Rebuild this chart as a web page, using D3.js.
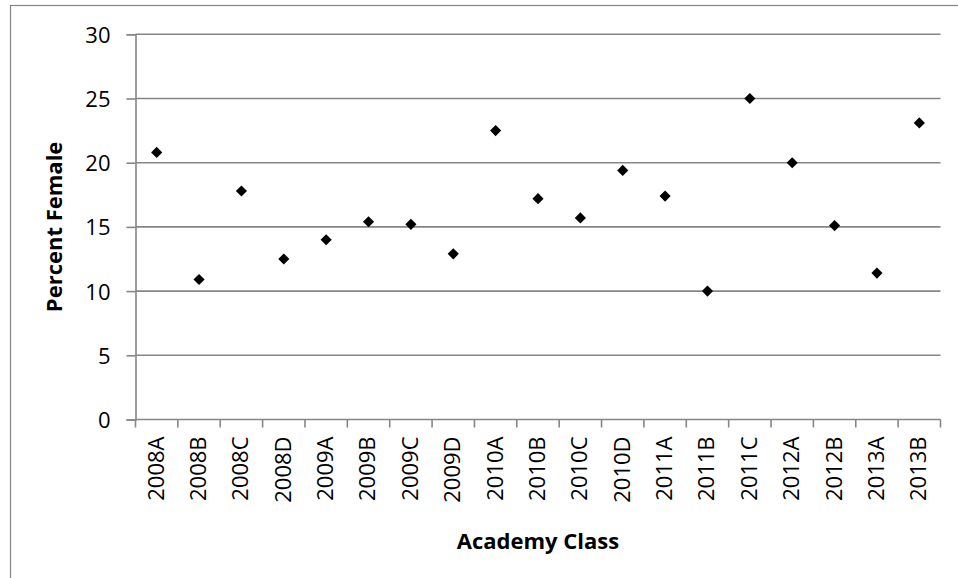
<!DOCTYPE html>
<html>
<head>
<meta charset="utf-8">
<script src="https://cdn.jsdelivr.net/npm/d3@7"></script>
<style>
  html, body { margin: 0; padding: 0; background: #fff; }
  svg { display: block; }
  text { font-family: "Open Sans", "Noto Sans", sans-serif; fill: #000; }
</style>
</head>
<body>
<svg id="chart" width="958" height="578"></svg>
<script>
// Academy classes and the share of women in each
const classes = ["2008A","2008B","2008C","2008D","2009A","2009B","2009C","2009D",
                 "2010A","2010B","2010C","2010D","2011A","2011B","2011C",
                 "2012A","2012B","2013A","2013B"];
const percentFemale = [20.8, 10.9, 17.8, 12.5, 14.0, 15.4, 15.2, 12.9,
                       22.5, 17.2, 15.7, 19.4, 17.4, 10.0, 25.0,
                       20.0, 15.1, 11.4, 23.1];
const yTicks = [0, 5, 10, 15, 20, 25, 30];

const svg = d3.select("#chart");
const gridColor = "#868686";

const plot = { left: 135.5, right: 940.5, top: 34.3, bottom: 419.5 };

const x = d3.scaleBand().domain(classes).range([plot.left, plot.right]).padding(0);
const y = d3.scaleLinear().domain([0, 30]).range([plot.bottom, plot.top]);

// outer chart frame
svg.append("rect")
  .attr("x", 10.5).attr("y", 5.5)
  .attr("width", 1000).attr("height", 1000)
  .attr("fill", "none").attr("stroke", gridColor).attr("stroke-width", 1.2);

// horizontal gridlines
svg.append("g")
  .selectAll("line")
  .data(yTicks.filter(t => t > 0))
  .join("line")
  .attr("x1", plot.left).attr("x2", plot.right)
  .attr("y1", d => y(d)).attr("y2", d => y(d))
  .attr("stroke", gridColor).attr("stroke-width", 1.6);

// y axis
const yAxis = svg.append("g")
  .attr("transform", `translate(${plot.left},0)`)
  .call(d3.axisLeft(y).tickValues(yTicks).tickSize(9).tickPadding(16));
yAxis.select(".domain").attr("stroke", gridColor).attr("stroke-width", 1.6);
yAxis.selectAll(".tick line").attr("stroke", gridColor).attr("stroke-width", 1.6);
yAxis.selectAll(".tick text")
  .attr("font-family", "Open Sans").attr("font-size", 22).attr("fill", "#000")
  .attr("dy", "0.36em");

// x axis baseline and boundary ticks
svg.append("line")
  .attr("x1", plot.left).attr("x2", plot.right)
  .attr("y1", plot.bottom).attr("y2", plot.bottom)
  .attr("stroke", gridColor).attr("stroke-width", 1.6);

const boundaries = classes.map(c => x(c)).concat([x(classes[classes.length - 1]) + x.bandwidth()]);
svg.append("g")
  .selectAll("line")
  .data(boundaries)
  .join("line")
  .attr("x1", d => d).attr("x2", d => d)
  .attr("y1", plot.bottom).attr("y2", plot.bottom + 8)
  .attr("stroke", gridColor).attr("stroke-width", 1.6);

// x axis labels, rotated
const xAxis = svg.append("g")
  .attr("transform", `translate(0,${plot.bottom})`)
  .call(d3.axisBottom(x).tickSize(0).tickPadding(0));
xAxis.select(".domain").remove();
xAxis.selectAll(".tick text")
  .attr("font-family", "Open Sans").attr("font-size", 22).attr("fill", "#000")
  .attr("transform", "rotate(-90)")
  .attr("text-anchor", "end")
  .attr("x", -17).attr("y", -1).attr("dy", "0.36em");

// markers
const diamond = d3.symbol().type(d3.symbolSquare).size(62);
svg.append("g")
  .selectAll("path")
  .data(classes.map((c, i) => ({ c, v: percentFemale[i] })))
  .join("path")
  .attr("d", diamond)
  .attr("transform", d => `translate(${x(d.c) + x.bandwidth() / 2},${y(d.v)}) rotate(45)`)
  .attr("fill", "#000");

// axis titles
svg.append("text")
  .attr("x", (plot.left + plot.right) / 2).attr("y", 549)
  .attr("text-anchor", "middle")
  .attr("font-weight", "bold").attr("font-size", 22)
  .text("Academy Class");

svg.append("text")
  .attr("transform", `translate(62,${(plot.top + plot.bottom) / 2}) rotate(-90)`)
  .attr("text-anchor", "middle")
  .attr("font-weight", "bold").attr("font-size", 22)
  .text("Percent Female");
</script>
</body>
</html>
